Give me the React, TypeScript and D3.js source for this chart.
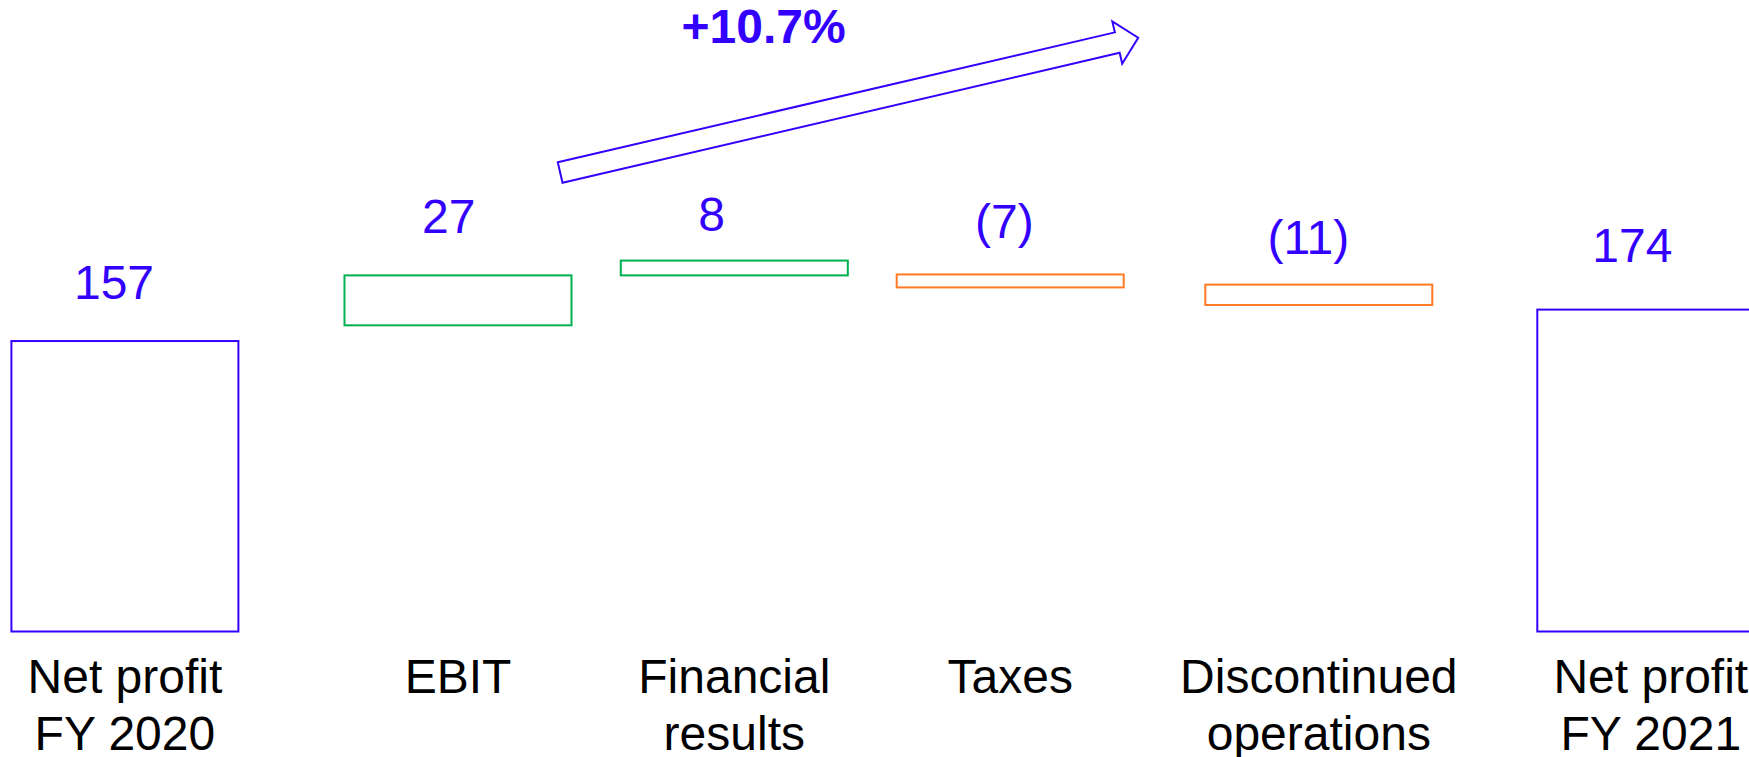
import React from "react";
import * as d3 from "d3";

// ---- data ----
const categories = [
  "Net profit FY 2020",
  "EBIT",
  "Financial results",
  "Taxes",
  "Discontinued operations",
  "Net profit FY 2021",
];
const categoryLines = [
  ["Net profit", "FY 2020"],
  ["EBIT"],
  ["Financial", "results"],
  ["Taxes"],
  ["Discontinued", "operations"],
  ["Net profit", "FY 2021"],
];
const values = [157, 27, 8, -7, -11, 174];
const valueLabels = ["157", "27", "8", "(7)", "(11)", "174"];
const barKinds = ["total", "increase", "increase", "decrease", "decrease", "total"];
// level at which each floating bar starts, as drawn in the picture
const barStart = [0, 165.5, 192.5, 193, 187.5, 0];
const growthLabel = "+10.7%";

// ---- layout ----
const W = 1749;
const H = 757;
const xCenters = [124.9, 458, 734.3, 1010.2, 1318.8, 1650.8];
const barWidth = 227;
const yZero = 631.5;
const pxPerUnit = 1.85;
const labelDx = [-10.9, -9.3, -22.8, -5.9, -10.5, -18.5];
const labelGap = [41.7, 42.1, 29.9, 36.4, 30.6, 47.9];
const catBaseline = 692.7;
const catLineHeight = 57.3;
const arrowFrom: [number, number] = [560.15, 172.5];
const arrowTo: [number, number] = [1138.2, 37.7];
const shaftHalf = 10.5;
const headHalf = 21.7;
const headLen = 21.5;
const growthPos = { x: 763.6, y: 43.3 };

const BLUE = "#3300ff";
const GREEN = "#00b050";
const ORANGE = "#ff7a22";
const FONT = "'Liberation Sans', Arial, Helvetica, sans-serif";

const kindColor: Record<string, string> = {
  total: BLUE,
  increase: GREEN,
  decrease: ORANGE,
};

export default function App() {
  const x = d3.scaleOrdinal<string, number>().domain(categories).range(xCenters);
  const y = d3
    .scaleLinear()
    .domain([0, 200])
    .range([yZero, yZero - 200 * pxPerUnit]);

  // block arrow geometry
  const dx = arrowTo[0] - arrowFrom[0];
  const dy = arrowTo[1] - arrowFrom[1];
  const len = Math.hypot(dx, dy);
  const ux = dx / len;
  const uy = dy / len;
  const nx = -uy;
  const ny = ux;
  const bx = arrowTo[0] - ux * headLen;
  const by = arrowTo[1] - uy * headLen;
  const pts: [number, number][] = [
    [arrowFrom[0] - nx * shaftHalf, arrowFrom[1] - ny * shaftHalf],
    [bx - nx * shaftHalf, by - ny * shaftHalf],
    [bx - nx * headHalf, by - ny * headHalf],
    [arrowTo[0], arrowTo[1]],
    [bx + nx * headHalf, by + ny * headHalf],
    [bx + nx * shaftHalf, by + ny * shaftHalf],
    [arrowFrom[0] + nx * shaftHalf, arrowFrom[1] + ny * shaftHalf],
  ];
  const arrowPath = d3.line().curve(d3.curveLinearClosed)(pts) || "";

  return (
    <svg
      width={W}
      height={H}
      viewBox={`0 0 ${W} ${H}`}
      style={{ position: "absolute", left: 0, top: 0, background: "#fff" }}
    >
      <rect x={0} y={0} width={W} height={H} fill="#fff" />
      {categories.map((c, i) => {
        const s = barStart[i];
        const e = s + values[i];
        const top = y(Math.max(s, e));
        const bottom = y(Math.min(s, e));
        const cx = x(c);
        return (
          <g key={c}>
            <rect
              x={cx - barWidth / 2}
              y={top}
              width={barWidth}
              height={bottom - top}
              fill="none"
              stroke={kindColor[barKinds[i]]}
              strokeWidth={2}
            />
            <text
              x={cx + labelDx[i]}
              y={top - labelGap[i]}
              textAnchor="middle"
              fontFamily={FONT}
              fontSize={48}
              fill={BLUE}
            >
              {valueLabels[i]}
            </text>
            <text textAnchor="middle" fontFamily={FONT} fontSize={48} fill="#000">
              {categoryLines[i].map((line, j) => (
                <tspan key={j} x={cx} y={catBaseline + j * catLineHeight}>
                  {line}
                </tspan>
              ))}
            </text>
          </g>
        );
      })}
      <path d={arrowPath} fill="#fff" stroke={BLUE} strokeWidth={2} strokeLinejoin="miter" />
      <text
        x={growthPos.x}
        y={growthPos.y}
        textAnchor="middle"
        fontFamily={FONT}
        fontSize={48}
        fontWeight="bold"
        fill={BLUE}
      >
        {growthLabel}
      </text>
    </svg>
  );
}
